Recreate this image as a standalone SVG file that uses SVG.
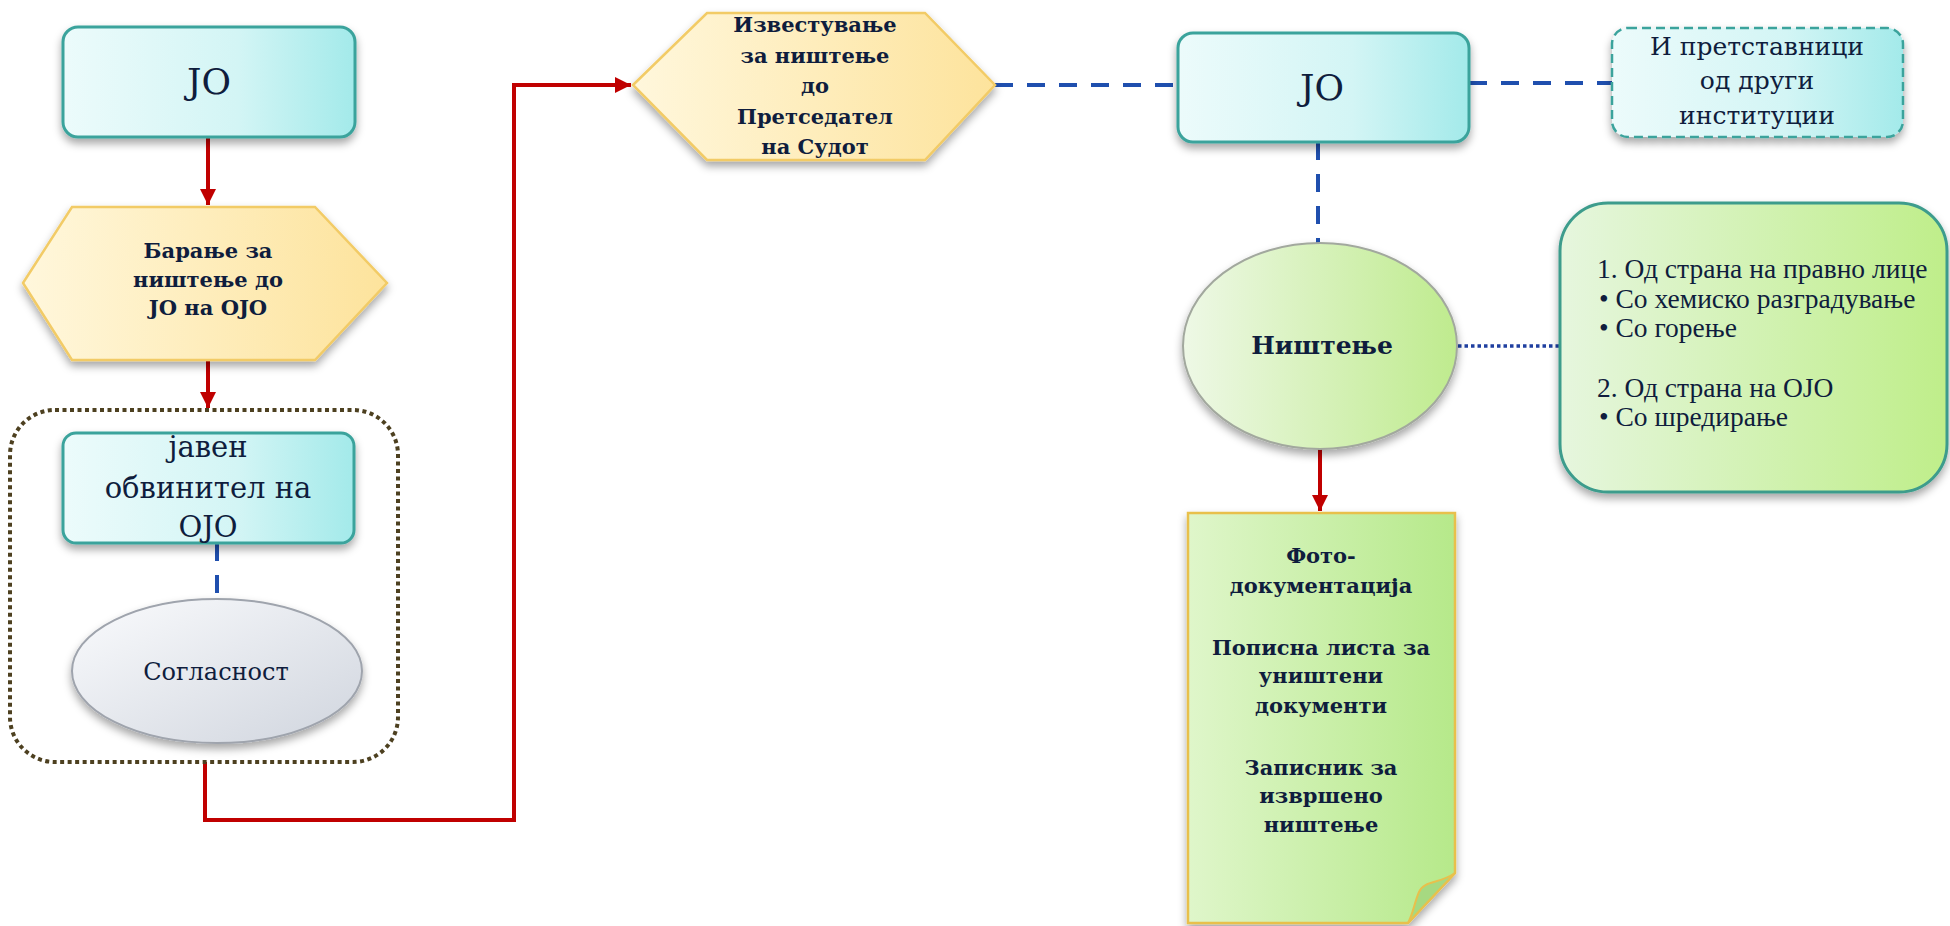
<svg xmlns="http://www.w3.org/2000/svg" width="1950" height="926" viewBox="0 0 1950 926">
<style>
.t{font-family:"DejaVu Serif","Liberation Serif",serif;fill:#0f1d3d;text-anchor:middle}
.b{font-weight:bold}
.g{font-family:"Liberation Serif","DejaVu Serif",serif;fill:#0f1d3d;font-size:27.5px}
.red{fill:none;stroke:#C00000;stroke-width:4}
.blue{fill:none;stroke:#1F4FAE;stroke-width:4;stroke-dasharray:18 14}
.dot{fill:none;stroke:#1F3FA0;stroke-width:3.5;stroke-dasharray:3.5 3}
.teal{fill:url(#tealG);stroke:#3BA39C;stroke-width:3}
.hex{fill:url(#yelG);stroke:#F2CB66;stroke-width:2.5}
</style>
<defs>
<linearGradient id="tealG" x1="0" y1="0" x2="1" y2="0">
<stop offset="0" stop-color="#ecfbfb"/><stop offset="0.6" stop-color="#d3f5f5"/><stop offset="1" stop-color="#a3eaea"/>
</linearGradient>
<linearGradient id="yelG" x1="0" y1="0" x2="1" y2="0">
<stop offset="0" stop-color="#fff7dc"/><stop offset="1" stop-color="#fde39c"/>
</linearGradient>
<linearGradient id="grayG" x1="0" y1="0" x2="1" y2="1">
<stop offset="0" stop-color="#fafbfd"/><stop offset="1" stop-color="#d0d5de"/>
</linearGradient>
<linearGradient id="greenG" x1="0" y1="0" x2="1" y2="0">
<stop offset="0" stop-color="#eef8e6"/><stop offset="1" stop-color="#bfeb8e"/>
</linearGradient>
<linearGradient id="boxG" x1="0" y1="0" x2="1" y2="0">
<stop offset="0" stop-color="#e6f6de"/><stop offset="1" stop-color="#bfee8a"/>
</linearGradient>
<linearGradient id="docG" x1="0" y1="0" x2="1" y2="0">
<stop offset="0" stop-color="#dff6ca"/><stop offset="1" stop-color="#b6e98a"/>
</linearGradient>
<filter id="sh" x="-10%" y="-10%" width="120%" height="130%">
<feDropShadow dx="0" dy="5" stdDeviation="4" flood-color="#000" flood-opacity="0.35"/>
</filter>
<marker id="ar" markerUnits="userSpaceOnUse" markerWidth="20" markerHeight="20" refX="16" refY="8" orient="auto">
<path d="M0,0 L16,8 L0,16 z" fill="#C00000"/>
</marker>
</defs>

<g id="connectors">
<line class="red" x1="208" y1="137" x2="208" y2="205" marker-end="url(#ar)"/>
<line class="red" x1="208" y1="360" x2="208" y2="408" marker-end="url(#ar)"/>
<path class="red" d="M205,762 V820 H514 V85 H631" marker-end="url(#ar)"/>
<line class="red" x1="1320" y1="448" x2="1320" y2="511" marker-end="url(#ar)"/>
<line class="blue" x1="217" y1="543" x2="217" y2="599"/>
<line class="blue" x1="995" y1="85" x2="1178" y2="85"/>
<line class="blue" x1="1469" y1="83" x2="1612" y2="83"/>
<line class="blue" x1="1318" y1="142" x2="1318" y2="243"/>
<line class="dot" x1="1458" y1="346" x2="1560" y2="346"/>
</g>

<g id="jo1">
<rect class="teal" x="63" y="27" width="292" height="110" rx="15" filter="url(#sh)"/>
<text class="t" x="209" y="94" font-size="36">JO</text>
</g>

<g id="baranje">
<polygon class="hex" points="23,283 72,207 315,207 387,283 315,360 72,360" filter="url(#sh)"/>
<text class="t b" font-size="21"><tspan x="208" y="258">Барање за</tspan><tspan x="208" y="287">ништење до</tspan><tspan x="208" y="315">JO на OJO</tspan></text>
</g>

<g id="group-ojo">
<rect x="10" y="410" width="388" height="352" rx="45" fill="none" stroke="#4D4020" stroke-width="4" stroke-dasharray="4 3.5"/>
</g>

<g id="javen">
<rect class="teal" x="63" y="433" width="291" height="110" rx="13" filter="url(#sh)"/>
<text class="t" font-size="29"><tspan x="208" y="457">јавен</tspan><tspan x="208" y="498">обвинител на</tspan><tspan x="208" y="537">OJO</tspan></text>
</g>

<g id="soglasnost">
<ellipse cx="217" cy="671" rx="145" ry="72" fill="url(#grayG)" stroke="#9FA4AD" stroke-width="2" filter="url(#sh)"/>
<text class="t" x="216" y="680" font-size="24">Согласност</text>
</g>

<g id="izvestuvanje">
<polygon class="hex" points="633,85 707,13 925,13 995,85 925,160 707,160" filter="url(#sh)"/>
<text class="t b" font-size="21"><tspan x="815" y="32">Известување</tspan><tspan x="815" y="62.5">за ништење</tspan><tspan x="815" y="93">до</tspan><tspan x="815" y="123.5">Претседател</tspan><tspan x="815" y="154">на Судот</tspan></text>
</g>

<g id="jo2">
<rect class="teal" x="1178" y="33" width="291" height="109" rx="15" filter="url(#sh)"/>
<text class="t" x="1322" y="100" font-size="36">JO</text>
</g>

<g id="pretstavnici">
<rect x="1612" y="28" width="291" height="109" rx="16" fill="url(#tealG)" stroke="#3BA39C" stroke-width="2.5" stroke-dasharray="9 5" filter="url(#sh)"/>
<text class="t" font-size="25"><tspan x="1757" y="55">И претставници</tspan><tspan x="1757" y="89">од други</tspan><tspan x="1757" y="124">институции</tspan></text>
</g>

<g id="nishtenje">
<ellipse cx="1320" cy="346" rx="137" ry="103" fill="url(#greenG)" stroke="#A2A89E" stroke-width="2" filter="url(#sh)"/>
<text class="t b" x="1322" y="354" font-size="25">Ништење</text>
</g>

<g id="nacini">
<rect x="1560" y="203" width="387" height="289" rx="48" fill="url(#boxG)" stroke="#3C9C8C" stroke-width="3" filter="url(#sh)"/>
<text class="g"><tspan x="1597" y="278">1. Од страна на правно лице</tspan><tspan x="1599" y="308">• Со хемиско разградување</tspan><tspan x="1599" y="337">• Со горење</tspan><tspan x="1597" y="397">2. Од страна на OJO</tspan><tspan x="1599" y="426">• Со шредирање</tspan></text>
</g>

<g id="dokumentacija">
<path d="M1188,513 H1455 V873 L1408,923 H1188 Z" fill="url(#docG)" stroke="#E8C04C" stroke-width="2.5" filter="url(#sh)"/>
<path d="M1455,873 C1440,884 1424,880 1419,892 C1414,904 1413,914 1408,923 Z" fill="#a6d981" stroke="#E8C04C" stroke-width="2"/>
<text class="t b" font-size="21"><tspan x="1321" y="563">Фото-</tspan><tspan x="1321" y="593">документација</tspan><tspan x="1321" y="655">Пописна листа за</tspan><tspan x="1321" y="683">уништени</tspan><tspan x="1321" y="713">документи</tspan><tspan x="1321" y="775">Записник за</tspan><tspan x="1321" y="803">извршено</tspan><tspan x="1321" y="832">ништење</tspan></text>
</g>
</svg>
